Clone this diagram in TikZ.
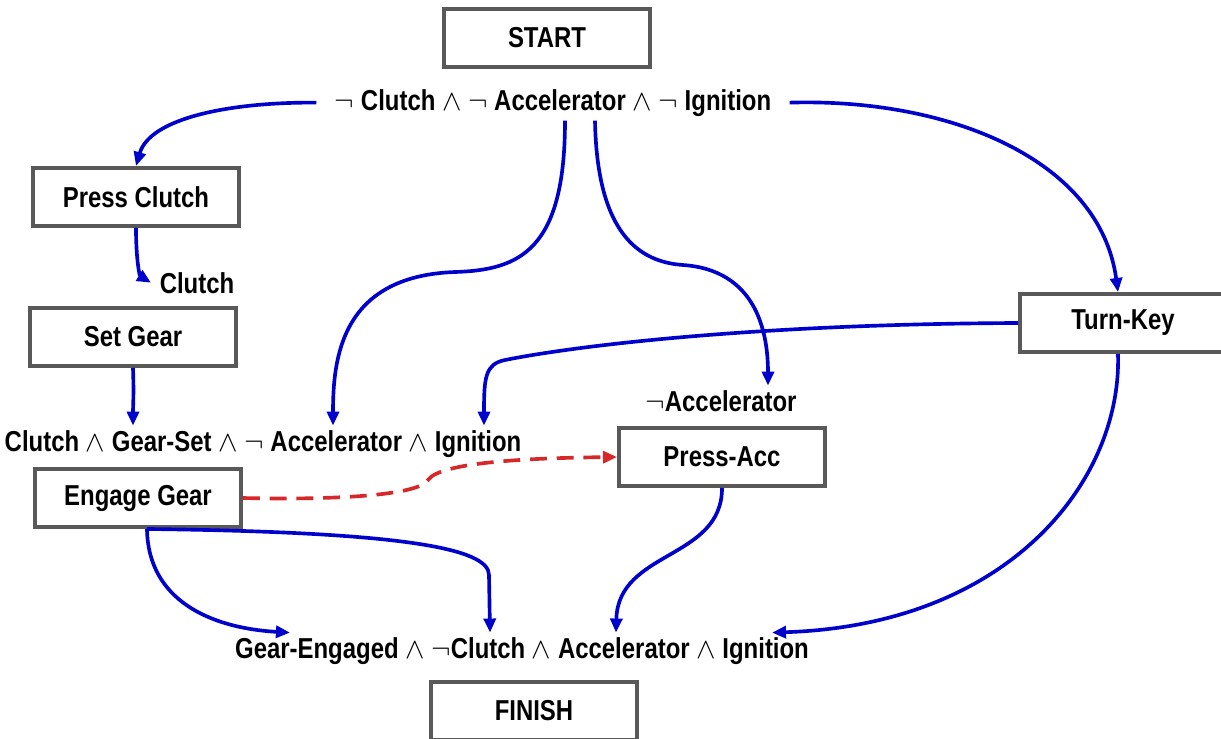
\documentclass[tikz,border=0pt]{standalone}
\usepackage{fontspec}
\setmainfont{Liberation Sans}[FakeStretch=0.83]
\usepackage{tikz}
\usetikzlibrary{
  positioning,
  arrows.meta
}
\definecolor{arcblue}{RGB}{0,0,204}
\definecolor{boxgray}{RGB}{89,89,89}
\definecolor{threatred}{RGB}{214,40,40}

\tikzstyle{actionbox}=[draw=boxgray, line width=2.8pt, fill=white, minimum width=5.15cm, minimum height=1.45cm, font=\fontsize{20.5}{24}\selectfont\bfseries]
\tikzstyle{condition}=[inner xsep=0pt, inner ysep=3pt, anchor=base, font=\fontsize{20.5}{24}\selectfont\bfseries]
\tikzstyle{link}=[-{Triangle[length=10pt,width=8.5pt]}, arcblue, line width=2.6pt]
\tikzstyle{threat}=[link, threatred, dash pattern=on 12pt off 7pt]

\begin{document}
\begin{tikzpicture}[x=0.025cm, y=-0.025cm]
    \useasboundingbox (0,0) rectangle (1221,738);

    % ACTIONS
    \node[actionbox] (start)    at (547,38)  {START};
    \node[actionbox] (press)    at (136,197) {Press Clutch};
    \node[actionbox] (setg)     at (133,337) {Set Gear};
    \node[actionbox] (engage)   at (138,498) {Engage Gear};
    \node[actionbox] (pressacc) at (722,457) {Press-Acc};
    \node[actionbox] (turn)     at (1123,323) {Turn-Key};
    \node[actionbox] (finish)   at (534,711) {FINISH};

    % CONDITIONS
    \node[condition, inner xsep=13pt] (top) at (553,110)
      {$\neg$ Clutch $\wedge$ $\neg$ Accelerator $\wedge$ $\neg$ Ignition};
    \node[condition, inner xsep=6pt] (clutch) at (197,293) {Clutch};
    \node[condition] (mid) at (263,451)
      {Clutch $\wedge$ Gear-Set $\wedge$ $\neg$ Accelerator $\wedge$ Ignition};
    \node[condition] (acclab) at (721,411) {$\neg$Accelerator};
    \node[condition] (bot) at (522,658)
      {Gear-Engaged $\wedge$ $\neg$Clutch $\wedge$ Accelerator $\wedge$ Ignition};

    % LINKS
    \draw[link] (top.west) .. controls (230,102) and (150,118) .. (press.north);
    \draw[link] (press.south) .. controls (136,262) and (140,276) .. (clutch.west);
    \draw[link] (setg.south) .. controls (134,395) and (133,405) .. (mid.north -| setg.south);
    \draw[link] (top.south -| 565,0) .. controls (565,250) and (520,270) .. (455,272)
      .. controls (340,276) and (333,360) .. (mid.north -| 333,0);
    \draw[link] (top.south -| 595,0) .. controls (597,235) and (640,262) .. (683,265)
      .. controls (755,270) and (768,330) .. (acclab.north -| 768,0);
    \draw[link] (top.east) .. controls (950,98) and (1100,160) .. (turn.north -| 1118,0);
    \draw[link] (turn.west) .. controls (760,324) and (580,345) .. (505,360)
      .. controls (485,364) and (484,378) .. (mid.north -| 484,0);
    \draw[link] (turn.south -| 1118,0) .. controls (1122,480) and (1010,625) .. (bot.north -| 772,0);
    \draw[link] (pressacc.south) .. controls (722,560) and (618,550) .. (bot.north -| 616,0);
    \draw[link] (engage.south -| 147,0) .. controls (400,532) and (489,548) .. (489,575)
      -- (bot.north -| 490,0);
    \draw[link] (engage.south -| 147,0) .. controls (148,600) and (210,628) .. (bot.north -| 290,0);

    % THREAT
    \draw[threat] (engage.east) .. controls (330,500) and (418,496) .. (428,480)
      .. controls (440,462) and (530,458) .. (pressacc.west);
\end{tikzpicture}
\end{document}
